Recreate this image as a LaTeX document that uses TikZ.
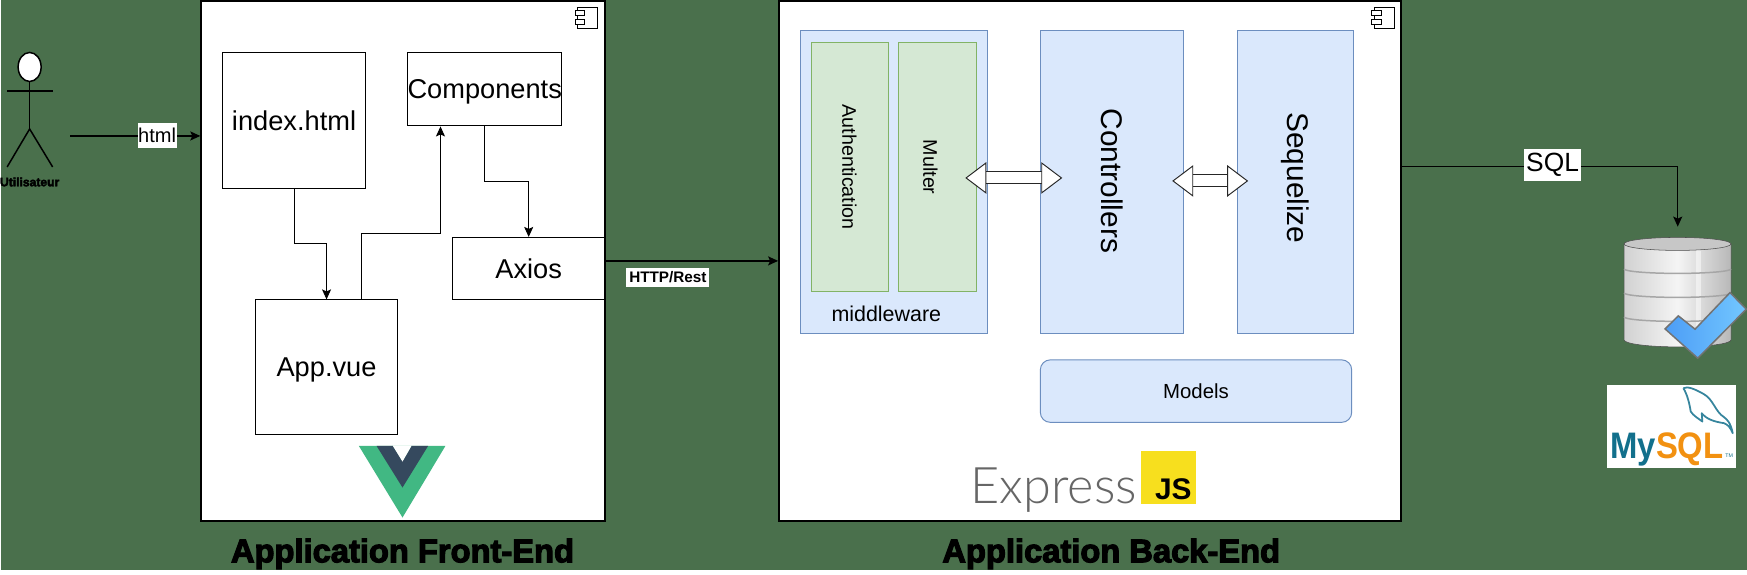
\documentclass[tikz,border=0pt]{standalone}
\usepackage{fontspec}
\setmainfont{Liberation Sans}
\newfontfamily\heavyfont{Liberation Sans}[BoldFeatures={FakeBold=3.5}]
\newfontfamily\thinfont{Lato Light}
\usepackage{xcolor}
\usepackage{tikz}
\usetikzlibrary{shapes.geometric,arrows.meta}
\definecolor{bggreen}{HTML}{4A704C}
\definecolor{bluefill}{HTML}{DAE8FC}
\definecolor{bluedraw}{HTML}{6C8EBF}
\definecolor{greenfill}{HTML}{D5E8D4}
\definecolor{greendraw}{HTML}{82B366}
\definecolor{vuegreen}{HTML}{41B883}
\definecolor{vuedark}{HTML}{35495E}
\definecolor{jsyellow}{HTML}{F7DF1E}
\definecolor{myteal}{HTML}{12708C}
\definecolor{myorange}{HTML}{F29111}
\tikzset{
	appbox/.style={rectangle,draw,fill=white,line width=0.85pt,inner sep=0pt},
	filebox/.style={rectangle,draw,fill=white,line width=0.55pt,inner sep=0pt,text depth=0pt,font=\fontsize{15.5}{18}\selectfont},
	bluebox/.style={rectangle,draw=bluedraw,fill=bluefill,line width=0.55pt,inner sep=0pt},
	greenbox/.style={rectangle,draw=greendraw,fill=greenfill,line width=0.55pt,inner sep=0pt},
	edgelabel/.style={rectangle,fill=white,inner sep=0pt},
	apptitle/.style={font=\heavyfont\bfseries\fontsize{18.6}{21}\selectfont},
	bothways/.style={draw=black!85,double=white,double distance=0.22cm,line width=0.55pt,
		{Triangle[length=0.42cm,width=0.63cm,fill=white]}-{Triangle[length=0.42cm,width=0.63cm,fill=white]}},
}
\begin{document}
\begin{tikzpicture}[>={Stealth[length=0.2cm,width=0.18cm,inset=0.04cm]}]
	\fill[bggreen] (0,0) rectangle (34.94,11.4);

	\node[appbox,minimum width=8.08cm,minimum height=10.4cm] (front) at (8.05,6.18) {};
	\node[appbox,minimum width=12.45cm,minimum height=10.4cm] (back) at (21.795,6.18) {};

	\foreach \bx in {front,back}{
		\begin{scope}[shift={(\bx.north east)},line width=0.55pt]
			\draw (-0.556,-0.146) rectangle (-0.156,-0.566);
			\draw[fill=white] (-0.604,-0.214) rectangle (-0.416,-0.314);
			\draw[fill=white] (-0.604,-0.38) rectangle (-0.416,-0.48);
		\end{scope}
	}

	\node[filebox,minimum width=2.86cm,minimum height=2.71cm] (index) at (5.87,8.985) {index.html};
	\node[filebox,minimum width=3.07cm,minimum height=1.46cm] (comp) at (9.685,9.61) {Components};
	\node[filebox,minimum width=3.05cm,minimum height=1.25cm] (axios) at (10.565,6.025) {Axios};
	\node[filebox,minimum width=2.84cm,minimum height=2.69cm] (app) at (6.52,4.055) {App.vue};

	\draw[->,line width=0.55pt] (index.south) -- ++(0,-1.1) -| (app.north);
	\draw[->,line width=0.55pt] ([xshift=0.7cm]app.north) -- ++(0,1.32) -| ([xshift=-0.885cm]comp.south);
	\draw[->,line width=0.55pt] (comp.south) -- ++(0,-1.1) -| (axios.north);

	% vue logo
	\fill[vuegreen] (7.166,2.48) -- (8.9,2.48) -- (8.04,1.046) -- cycle;
	\fill[vuedark] (7.52,2.48) -- (7.846,2.48) -- (8.04,2.166) -- (8.22,2.48) -- (8.554,2.48) -- (8.04,1.646) -- cycle;
	\fill[white] (7.846,2.48) -- (8.22,2.48) -- (8.04,2.166) -- cycle;

	\node[bluebox,minimum width=3.74cm,minimum height=6.08cm] (middleware) at (17.87,7.76) {};
	\node[greenbox,minimum width=1.54cm,minimum height=4.99cm] (auth) at (16.99,8.055) {};
	\node[greenbox,minimum width=1.55cm,minimum height=4.99cm] (multer) at (18.745,8.055) {};
	\node[rotate=-90,font=\fontsize{11.2}{13}\selectfont] (authtext) at (16.98,8.055) {Authentication};
	\node[rotate=-90,font=\fontsize{11.2}{13}\selectfont] (multertext) at (18.6,8.055) {Multer};
	\node[font=\fontsize{12.2}{14}\selectfont] (mwtext) at (17.72,5.13) {middleware};
	\node[bluebox,minimum width=2.86cm,minimum height=6.08cm] (ctrl) at (22.23,7.76) {};
	\node[rotate=-90,font=\fontsize{17}{20}\selectfont] (ctrltext) at (22.23,7.78) {Controllers};
	\node[bluebox,minimum width=2.32cm,minimum height=6.08cm] (seq) at (25.9,7.76) {};
	\node[rotate=-90,font=\fontsize{17}{20}\selectfont] (seqtext) at (25.9,7.84) {Sequelize};
	\node[bluebox,rounded corners=0.2cm,minimum width=6.23cm,minimum height=1.25cm,font=\fontsize{11.6}{14}\selectfont] (models) at (23.916,3.575) {Models};

	\coordinate (mwout) at (19.3,7.84);
	\coordinate (ctrlin) at (21.24,7.84);
	\coordinate (ctrlout) at (23.44,7.78);
	\coordinate (seqin) at (24.96,7.78);
	\draw[bothways] (mwout) -- (ctrlin);
	\draw[bothways] (ctrlout) -- (seqin);

	% express logo
	\node[anchor=base west,inner sep=0pt,text=black!60,font=\thinfont\fontsize{28.7}{31}\selectfont] (express) at (19.4,1.33) {Express};
	\node[rectangle,fill=jsyellow,minimum width=1.1cm,minimum height=1.066cm] (jsbox) at (23.37,1.846) {};
	\node[anchor=base east,inner sep=0pt,font=\bfseries\fontsize{17}{20}\selectfont] (jstext) at (23.834,1.4) {JS};

	% actor
	\node[ellipse,draw,fill=white,line width=0.85pt,minimum width=0.46cm,minimum height=0.58cm,inner sep=0pt] (head) at (0.58,10.06) {};
	\coordinate (armleft) at (0.13,9.58);
	\coordinate (armright) at (1.04,9.58);
	\coordinate (hip) at (0.58,8.82);
	\coordinate (footleft) at (0.13,8.06);
	\coordinate (footright) at (1.04,8.06);
	\draw[line width=0.85pt] (armleft) -- (armright);
	\draw[line width=0.85pt] (head) -- (hip);
	\draw[line width=0.85pt] (footleft) -- (hip) -- (footright);
	\node[font=\heavyfont\bfseries\fontsize{6.9}{8}\selectfont,inner sep=0pt] (actor) at (0.58,7.76) {Utilisateur};

	\coordinate (actorout) at (1.39,8.68);
	\coordinate (dbin) at (33.554,6.866);
	\coordinate (backout) at (28.02,8.066);
	\draw[->,line width=0.85pt] (actorout) -- (front.west |- actorout);
	\draw[->,line width=0.85pt] (axios.east |- back.west) -- (back.west);
	\draw[->,line width=0.85pt] (backout) -| (dbin);
	\node[edgelabel,minimum width=0.78cm,minimum height=0.5cm,font=\fontsize{11.4}{13}\selectfont] (htmllabel) at (3.13,8.69) {html};
	\node[edgelabel,minimum width=1.66cm,minimum height=0.38cm,font=\bfseries\fontsize{8.7}{10}\selectfont] (httplabel) at (13.35,5.85) {HTTP/Rest};
	\node[edgelabel,minimum width=1.14cm,minimum height=0.64cm,font=\fontsize{15}{17}\selectfont] (sqllabel) at (31.05,8.1) {SQL};

	\node[apptitle] (fronttitle) at (8.04,0.32) {Application Front-End};
	\node[apptitle] (backtitle) at (22.22,0.32) {Application Back-End};

	% database
	\shade[left color=black!18,right color=black!28,middle color=black!4,draw=black!70,line width=0.3pt]
		(32.48,6.52) -- (32.48,4.6) arc[start angle=180,end angle=360,x radius=1.07,y radius=0.14] -- (34.62,6.52) -- cycle;
	\fill[white,opacity=0.5] (33.92,6.4) rectangle (34.02,4.5);
	\foreach \by in {6.02,5.54,5.06}{
		\draw[black!35,line width=0.85pt] (32.48,\by) arc[start angle=180,end angle=360,x radius=1.07,y radius=0.09];
	}
	\draw[black!70,fill=black!22,line width=0.3pt] (33.55,6.52) ellipse[x radius=1.07,y radius=0.13];
	\draw[left color=black!10!cyan!50!blue!70,right color=cyan!60!blue!55,draw=black!55,line width=0.85pt]
		(33.3,4.82) -- (33.566,5.08) -- (33.9,4.814) -- (34.6,5.546) -- (34.925,5.214) -- (33.954,4.234) -- cycle;

	% mysql logo
	\node[rectangle,fill=white,minimum width=2.58cm,minimum height=1.654cm] (mysqlbox) at (33.43,2.873) {};
	\node[anchor=base west,inner sep=0pt,font=\bfseries\fontsize{21}{23}\selectfont] (mysqltext) at (32.2,2.234)
		{\scalebox{0.89}[1]{\textcolor{myteal}{My}\textcolor{myorange}{SQL}}};
	\node[anchor=base west,inner sep=0pt,text=myteal,font=\fontsize{3}{4}\selectfont] (mysqltm) at (34.5,2.24) {TM};
	\begin{scope}[shift={(32,3.8)},x=0.00667cm,y=-0.00667cm]
		\draw[myteal!85,line width=1pt,line join=round]
			(250,25) .. controls (262,18) and (285,28) .. (310,42)
			.. controls (340,58) and (345,95) .. (372,112)
			.. controls (380,118) and (392,128) .. (398,160)
			.. controls (392,145) and (385,135) .. (372,130)
			.. controls (340,125) and (320,118) .. (305,100)
			-- (307,125)
			.. controls (298,118) and (280,108) .. (272,95)
			.. controls (268,70) and (262,45) .. (250,25);
	\end{scope}
\end{tikzpicture}
\end{document}
